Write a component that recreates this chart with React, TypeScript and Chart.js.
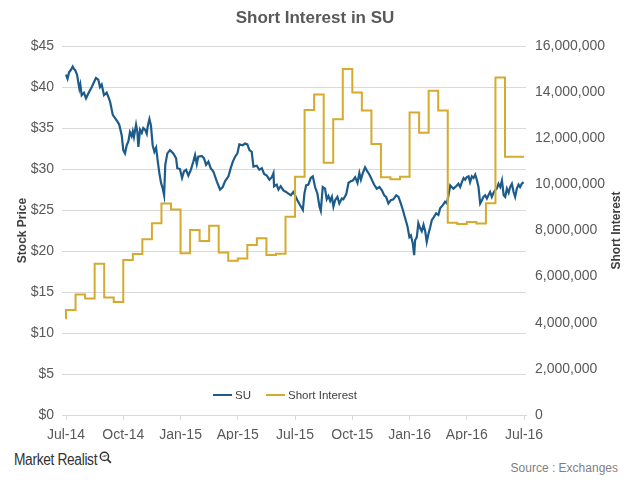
import React, { useEffect, useRef } from 'react';
import { Chart, registerables } from 'chart.js';

Chart.register(...registerables);

// x unit: months since Jul-2014
const quarterMonths = [0, 3, 6, 9, 12, 15, 18, 21, 24];
const quarterLabels = ['Jul-14', 'Oct-14', 'Jan-15', 'Apr-15', 'Jul-15', 'Oct-15', 'Jan-16', 'Apr-16', 'Jul-16'];

const priceMonths = [
  0.00, 0.08, 0.16, 0.26, 0.35, 0.42, 0.47, 0.58, 0.64, 0.70, 0.75, 0.82, 0.94, 1.05, 1.17, 1.35, 1.47, 1.57, 1.69, 1.78,
  1.87, 1.99, 2.13, 2.22, 2.31, 2.45, 2.57, 2.69, 2.79, 2.92, 3.00, 3.09, 3.18, 3.27, 3.35, 3.44, 3.50, 3.56, 3.67, 3.74,
  3.79, 3.88, 3.97, 4.05, 4.14, 4.23, 4.28, 4.37, 4.45, 4.54, 4.63, 4.72, 4.81, 4.89, 4.98, 5.07, 5.14, 5.20, 5.31, 5.45,
  5.62, 5.77, 5.83, 5.97, 6.08, 6.18, 6.29, 6.41, 6.54, 6.67, 6.76, 6.85, 6.93, 7.11, 7.23, 7.34, 7.46, 7.58, 7.72, 7.90,
  8.07, 8.21, 8.33, 8.51, 8.63, 8.74, 8.86, 8.98, 9.08, 9.26, 9.38, 9.50, 9.61, 9.73, 9.82, 9.99, 10.13, 10.26, 10.38, 10.52,
  10.66, 10.78, 10.87, 10.90, 11.04, 11.13, 11.25, 11.39, 11.53, 11.65, 11.78, 11.91, 12.00, 12.12, 12.26, 12.41, 12.49, 12.58, 12.70, 12.82,
  12.93, 13.05, 13.17, 13.28, 13.35, 13.45, 13.57, 13.66, 13.75, 13.84, 13.93, 14.01, 14.10, 14.22, 14.32, 14.45, 14.53, 14.68, 14.80, 14.92,
  15.03, 15.15, 15.27, 15.37, 15.45, 15.55, 15.67, 15.79, 15.90, 16.02, 16.14, 16.28, 16.42, 16.55, 16.67, 16.77, 16.89, 17.02, 17.15, 17.30,
  17.42, 17.54, 17.65, 17.72, 17.82, 17.89, 17.99, 18.07, 18.17, 18.24, 18.29, 18.38, 18.46, 18.55, 18.64, 18.73, 18.82, 18.90, 18.99, 19.08,
  19.17, 19.29, 19.39, 19.51, 19.60, 19.74, 19.86, 19.95, 20.04, 20.13, 20.21, 20.30, 20.44, 20.56, 20.65, 20.74, 20.83, 20.91, 21.00, 21.09,
  21.17, 21.26, 21.35, 21.44, 21.52, 21.61, 21.70, 21.79, 21.87, 21.96, 22.05, 22.13, 22.22, 22.31, 22.40, 22.48, 22.57, 22.66, 22.75, 22.84,
  22.93, 23.01, 23.10, 23.19, 23.27, 23.36, 23.45, 23.53, 23.62, 23.71, 23.79, 23.88, 23.97,
];

const priceValues = [
  41.5, 41.0, 41.8, 42.1, 42.5, 42.2, 42.1, 41.5, 40.6, 39.8, 40.3, 39.0, 39.3, 38.6, 39.2, 40.0, 40.6, 41.1, 40.9, 40.0,
  40.3, 39.0, 39.3, 38.8, 38.2, 36.6, 36.2, 35.8, 35.4, 34.1, 32.3, 31.9, 32.9, 33.4, 34.5, 34.0, 34.6, 33.9, 35.4, 34.5,
  32.7, 34.8, 34.4, 35.0, 34.8, 34.3, 35.2, 36.1, 35.3, 32.9, 32.1, 32.6, 30.9, 29.5, 28.3, 27.6, 26.8, 30.5, 31.9, 32.3,
  31.9, 31.3, 30.1, 30.0, 28.9, 29.7, 29.9, 29.2, 29.9, 30.9, 31.7, 30.6, 31.5, 31.6, 31.3, 30.5, 30.9, 30.1, 29.7, 28.5,
  27.5, 27.8, 28.5, 29.1, 30.1, 30.9, 31.5, 31.9, 33.0, 32.9, 33.1, 33.0, 32.3, 32.1, 30.3, 30.4, 29.9, 30.1, 29.4, 29.2,
  28.7, 29.0, 29.5, 27.9, 28.1, 27.5, 27.9, 27.4, 27.2, 27.0, 26.8, 27.2, 26.8, 26.2, 25.6, 25.0, 27.0, 28.0, 28.1, 28.9,
  29.1, 27.8, 27.0, 25.4, 24.9, 27.8, 27.6, 26.3, 26.7, 26.1, 26.6, 25.4, 26.2, 26.6, 25.8, 26.4, 26.3, 26.9, 28.3, 28.5,
  28.6, 29.0, 28.3, 29.5, 28.7, 29.5, 30.2, 29.7, 29.3, 28.7, 28.1, 27.6, 27.8, 27.4, 26.8, 26.6, 25.8, 26.2, 26.3, 26.8,
  26.6, 25.8, 25.0, 24.4, 23.6, 23.0, 21.7, 21.9, 20.9, 19.5, 21.3, 21.7, 23.4, 22.8, 22.4, 23.2, 22.4, 21.1, 22.1, 22.9,
  23.8, 24.2, 24.6, 24.4, 25.2, 25.6, 26.0, 25.8, 26.8, 28.0, 27.8, 27.6, 27.9, 28.2, 27.8, 28.4, 28.9, 28.7, 29.0, 29.1,
  28.4, 29.1, 28.9, 29.3, 28.7, 27.8, 25.8, 26.2, 26.6, 26.8, 26.4, 26.8, 27.2, 26.6, 27.1, 27.4, 27.6, 28.2, 27.8, 28.6,
  26.8, 26.6, 27.6, 27.1, 27.8, 28.2, 27.2, 26.6, 27.6, 28.1, 27.8, 28.2, 28.4,
];

// semi-monthly short interest reports
const shortMonths = [
  0, 0.5, 1, 1.5, 2, 2.5, 3, 3.5, 4, 4.5, 5, 5.5, 6, 6.5, 7, 7.5, 8, 8.5, 9, 9.5, 10, 10.5, 11, 11.5,
  12, 12.5, 13, 13.5, 14, 14.5, 15, 15.5, 16, 16.5, 17, 17.5, 18, 18.5, 19, 19.5, 20, 20.5, 21, 21.5, 22, 22.5, 23, 23.5, 24,
];
const shortValues = [
  4150000, 4550000, 5230000, 5050000, 6560000, 5090000, 4900000, 6720000, 6980000, 7620000, 8310000, 9170000,
  8910000, 7010000, 8020000, 7540000, 8210000, 7050000, 6690000, 6790000, 7370000, 7660000, 6940000, 6990000,
  8600000, 10330000, 13220000, 13900000, 10940000, 12820000, 15000000, 13980000, 13200000, 11750000, 10310000, 10220000,
  10330000, 13120000, 12240000, 14060000, 13200000, 8340000, 8280000, 8370000, 8300000, 9180000, 14630000, 11200000, 11200000,
];

const BLUE = '#1d5b8a';
const GOLD = '#d5aa2d';
const GRID = '#d9d9d9';
const TEXT = '#595959';
const FONT = '"Liberation Sans", Arial, Helvetica, sans-serif';

const overlayPlugin = {
  id: 'overlay',
  afterDraw(chart: any) {
    const ctx = chart.ctx;
    const area = chart.chartArea;
    ctx.save();
    // right axis title (reads bottom-to-top)
    ctx.translate(617, (area.top + area.bottom) / 2);
    ctx.rotate(-Math.PI / 2);
    ctx.font = `bold 12px ${FONT}`;
    ctx.fillStyle = '#404040';
    ctx.textAlign = 'center';
    ctx.textBaseline = 'middle';
    ctx.fillText('Short Interest', 0, 0);
    ctx.restore();

    // legend inside the plot area
    ctx.save();
    const ly = 395;
    ctx.font = `11.5px ${FONT}`;
    ctx.textBaseline = 'middle';
    ctx.textAlign = 'left';
    ctx.lineWidth = 2;
    const items = [
      { label: 'SU', color: BLUE, x: 213 },
      { label: 'Short Interest', color: GOLD, x: 266 },
    ];
    items.forEach((it) => {
      ctx.strokeStyle = it.color;
      ctx.beginPath();
      ctx.moveTo(it.x, ly);
      ctx.lineTo(it.x + 19, ly);
      ctx.stroke();
      ctx.fillStyle = '#404040';
      ctx.fillText(it.label, it.x + 22, ly + 0.5);
    });
    ctx.restore();
  },
};

export default function App() {
  const canvasRef = useRef<HTMLCanvasElement | null>(null);

  useEffect(() => {
    if (!canvasRef.current) return;
    const priceData = priceMonths.map((m, i) => ({ x: m, y: priceValues[i] }));
    const shortData = shortMonths.map((m, i) => ({ x: m, y: shortValues[i] }));

    const chart = new Chart(canvasRef.current, {
      type: 'line',
      data: {
        datasets: [
          {
            label: 'SU',
            data: priceData,
            borderColor: BLUE,
            borderWidth: 2.2,
            pointRadius: 0,
            tension: 0,
            yAxisID: 'y',
            order: 2,
          },
          {
            label: 'Short Interest',
            data: shortData,
            borderColor: GOLD,
            borderWidth: 2,
            pointRadius: 0,
            stepped: 'after',
            yAxisID: 'y1',
            order: 1,
          },
        ],
      },
      options: {
        responsive: false,
        animation: false,
        layout: { padding: 0 },
        plugins: {
          legend: { display: false },
          tooltip: { enabled: false },
          title: {
            display: true,
            text: 'Short Interest in SU',
            color: TEXT,
            font: { family: FONT, size: 17, weight: 'bold' },
            padding: { top: 8, bottom: 17.6 },
          },
        },
        scales: {
          x: {
            type: 'linear',
            min: -0.21,
            max: 24.1,
            afterBuildTicks: (scale: any) => {
              scale.ticks = quarterMonths.map((v) => ({ value: v }));
            },
            afterFit: (scale: any) => {
              scale.height = 25;
            },
            ticks: {
              autoSkip: false,
              maxRotation: 0,
              color: TEXT,
              padding: 7,
              font: { family: FONT, size: 14 },
              callback: (_v: any, i: number) => quarterLabels[i],
            },
            grid: { display: true, drawOnChartArea: false, drawTicks: true, tickLength: 5, color: GRID },
            border: { display: true, color: GRID },
          },
          y: {
            position: 'left',
            min: 0,
            max: 45,
            afterFit: (scale: any) => {
              scale.width = 62;
            },
            ticks: {
              stepSize: 5,
              color: TEXT,
              padding: 8,
              font: { family: FONT, size: 14 },
              callback: (v: any) => '$' + v,
            },
            grid: { color: GRID, drawTicks: false },
            border: { display: false },
            title: {
              display: true,
              text: 'Stock Price',
              color: '#404040',
              font: { family: FONT, size: 12, weight: 'bold' },
              padding: { top: 15, bottom: 0 },
            },
          },
          y1: {
            position: 'right',
            min: 0,
            max: 16000000,
            afterFit: (scale: any) => {
              scale.width = 104;
            },
            ticks: {
              stepSize: 2000000,
              color: TEXT,
              padding: 9,
              font: { family: FONT, size: 14 },
              callback: (v: any) => Number(v).toLocaleString('en-US'),
            },
            grid: { drawOnChartArea: false, drawTicks: false },
            border: { display: false },
          },
        },
      },
      plugins: [overlayPlugin],
    } as any);

    return () => chart.destroy();
  }, []);

  return (
    <div style={{ position: 'absolute', left: 0, top: 0, width: 630, height: 485, background: '#fff', overflow: 'hidden' }}>
      <canvas ref={canvasRef} width={630} height={440} style={{ position: 'absolute', left: 0, top: 0, width: 630, height: 440 }} />
      <div
        style={{
          position: 'absolute',
          left: 14,
          top: 451,
          fontFamily: '"Liberation Sans Narrow", "Liberation Sans", Arial, sans-serif',
          fontSize: 16,
          color: '#333',
          letterSpacing: -0.4,
          whiteSpace: 'nowrap',
          transform: 'scaleX(0.86)',
          transformOrigin: 'left top',
        }}
      >
        Market Realist
      </div>
      <svg width="13" height="13" viewBox="0 0 12 12" style={{ position: 'absolute', left: 99, top: 451 }}>
        <circle cx="5" cy="5" r="3.8" fill="none" stroke="#333" strokeWidth="1.4" />
        <line x1="7.8" y1="7.8" x2="11" y2="11" stroke="#333" strokeWidth="1.6" />
        <path d="M3.2 5.6 L4.6 4.2 L5.6 5.2 L7 3.6" fill="none" stroke="#333" strokeWidth="0.9" />
      </svg>
      <div
        style={{
          position: 'absolute',
          right: 12,
          top: 461,
          fontFamily: FONT,
          fontSize: 12,
          color: '#7f7f7f',
          whiteSpace: 'nowrap',
        }}
      >
        Source : Exchanges
      </div>
    </div>
  );
}
